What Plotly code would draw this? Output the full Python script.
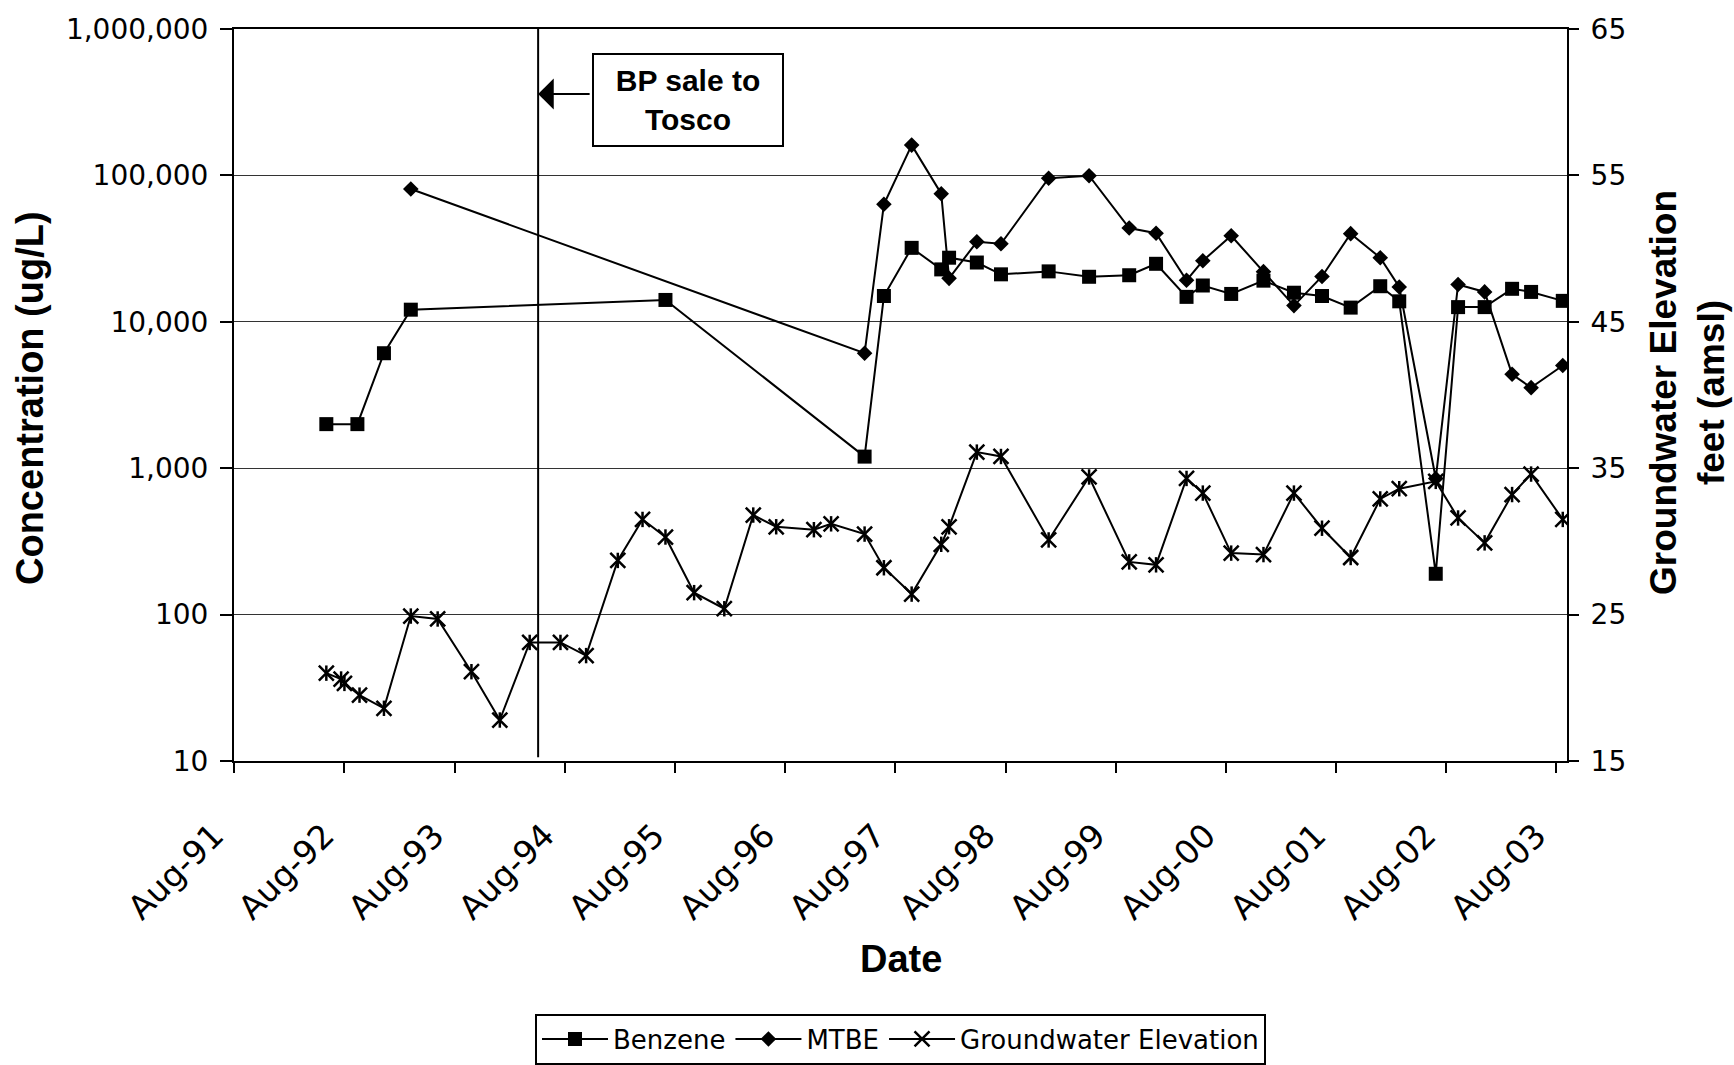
import plotly.graph_objects as go

# ---------------- data ----------------
benzene_dates = [
    "1992-06-02", "1992-09-13", "1992-12-10", "1993-03-09", "1995-07-01",
    "1997-04-21", "1997-06-24", "1997-09-24", "1997-12-31", "1998-01-26",
    "1998-04-28", "1998-07-17", "1998-12-22", "1999-05-05", "1999-09-15",
    "1999-12-13", "2000-03-23", "2000-05-16", "2000-08-18", "2000-12-03",
    "2001-03-14", "2001-06-15", "2001-09-18", "2001-12-25", "2002-02-26",
    "2002-06-27", "2002-09-09", "2002-12-06", "2003-03-07", "2003-05-09",
    "2003-08-22",
]
benzene_ugL = [
    2000, 2000, 6100, 12100, 14100,
    1200, 15000, 32000, 22800, 27400,
    25400, 21100, 22100, 20300, 20800,
    24900, 14800, 17700, 15500, 19100,
    15800, 15000, 12500, 17500, 13800,
    190, 12600, 12600, 16800, 16000,
    13900,
]

mtbe_dates = [
    "1993-03-09",
    "1997-04-21", "1997-06-24", "1997-09-24", "1997-12-31", "1998-01-26",
    "1998-04-28", "1998-07-17", "1998-12-22", "1999-05-05", "1999-09-15",
    "1999-12-13", "2000-03-23", "2000-05-16", "2000-08-18", "2000-12-03",
    "2001-03-14", "2001-06-15", "2001-09-18", "2001-12-25", "2002-02-26",
    "2002-06-27", "2002-09-09", "2002-12-06", "2003-03-07", "2003-05-09",
    "2003-08-22",
]
mtbe_ugL = [
    80700,
    6100, 63500, 161000, 75000, 19800,
    35200, 34100, 95700, 99500, 43700,
    40300, 19200, 26100, 38700, 22000,
    12900, 20400, 40000, 27400, 17300,
    850, 18000, 16000, 4380, 3550,
    5030,
]

gw_dates = [
    "1992-06-02", "1992-07-21", "1992-08-01", "1992-09-20", "1992-12-10",
    "1993-03-09", "1993-06-06", "1993-09-26", "1993-12-29", "1994-04-07",
    "1994-07-18", "1994-10-11", "1995-01-24", "1995-04-16", "1995-07-01",
    "1995-10-04", "1996-01-12", "1996-04-17", "1996-07-02", "1996-11-04",
    "1996-12-31", "1997-04-21", "1997-06-24", "1997-09-24", "1997-12-31",
    "1998-01-26", "1998-04-28", "1998-07-17", "1998-12-22", "1999-05-05",
    "1999-09-15", "1999-12-13", "2000-03-23", "2000-05-16", "2000-08-18",
    "2000-12-03", "2001-03-14", "2001-06-15", "2001-09-18", "2001-12-25",
    "2002-02-26", "2002-06-27", "2002-09-09", "2002-12-06", "2003-03-07",
    "2003-05-09", "2003-08-22",
]
gw_elev_ft = [
    21.0, 20.6, 20.3, 19.5, 18.6,
    24.9, 24.7, 21.1, 17.8, 23.1,
    23.1, 22.2, 28.7, 31.5, 30.3,
    26.5, 25.4, 31.8, 31.0, 30.8,
    31.2, 30.5, 28.2, 26.4, 29.8,
    31.0, 36.1, 35.8, 30.1, 34.4,
    28.6, 28.4, 34.3, 33.3, 29.2,
    29.1, 33.3, 30.9, 28.9, 32.9,
    33.6, 34.1, 31.6, 29.9, 33.2,
    34.6, 31.5,
]

y_ticks = [10, 100, 1000, 10000, 100000, 1000000]
y_tick_labels = ["10", "100", "1,000", "10,000", "100,000", "1,000,000"]
y2_ticks = [15, 25, 35, 45, 55, 65]
sale_date = "1994-05-05"
x_range = ["1991-08-01", "2003-09-05"]

REG = "DejaVu Sans"
BOLD = "Liberation Sans"

fig = go.Figure()
fig.add_trace(go.Scatter(
    x=benzene_dates, y=benzene_ugL, name="Benzene", mode="lines+markers",
    line=dict(color="black", width=2),
    marker=dict(symbol="square", size=14, color="black"),
))
fig.add_trace(go.Scatter(
    x=mtbe_dates, y=mtbe_ugL, name="MTBE", mode="lines+markers",
    line=dict(color="black", width=2),
    marker=dict(symbol="diamond", size=12, color="black"),
))
fig.add_trace(go.Scatter(
    x=gw_dates, y=gw_elev_ft, name="Groundwater Elevation", yaxis="y2",
    mode="lines+markers",
    line=dict(color="black", width=2),
    marker=dict(symbol="x-thin-open", size=15, color="black",
                line=dict(color="black", width=2.5)),
))
fig.add_trace(go.Scatter(
    x=gw_dates, y=gw_elev_ft, yaxis="y2", mode="markers", showlegend=False,
    hoverinfo="skip",
    marker=dict(symbol="line-ns-open", size=11, color="black",
                line=dict(color="black", width=2.5)),
))

fig.update_layout(
    template="none",
    width=1734, height=1065, autosize=False,
    margin=dict(l=234, r=167, t=29, b=304, pad=0, autoexpand=False),
    paper_bgcolor="white", plot_bgcolor="white",
    font=dict(family=REG, size=27, color="black"),
    showlegend=True,
    legend=dict(
        orientation="h", x=0.5, xanchor="center", y=-0.345, yanchor="top",
        bordercolor="black", borderwidth=2, bgcolor="white",
        font=dict(family=REG, size=26, color="black"), itemwidth=66,
    ),
    xaxis=dict(
        type="date", range=x_range, tick0="1991-08-01", dtick="M12",
        tickformat="%b-%y", tickangle=-45, ticks="outside", ticklen=10,
        tickwidth=1.5, tickcolor="black", showline=True, linecolor="black",
        linewidth=2, mirror=True, showgrid=False, zeroline=False,
        tickfont=dict(family=REG, size=33), ticklabelstandoff=30,
        ticklabelshift=-20, automargin=False,
    ),
    yaxis=dict(
        type="log", range=[1, 6], tickvals=y_ticks, ticktext=y_tick_labels,
        ticks="outside", ticklen=12, tickwidth=1.5, tickcolor="black",
        showline=True, linecolor="black", linewidth=2,
        showgrid=True, gridcolor="#333333", gridwidth=1, zeroline=False,
        tickfont=dict(family=REG, size=28), ticklabelstandoff=6,
        automargin=False,
    ),
    yaxis2=dict(
        overlaying="y", side="right", range=[15, 65], tickvals=y2_ticks,
        ticks="outside", ticklen=10, tickwidth=1.5, tickcolor="black",
        showline=True, linecolor="black", linewidth=2,
        showgrid=False, zeroline=False,
        tickfont=dict(family=REG, size=28), ticklabelstandoff=6,
        automargin=False,
    ),
)

# vertical line marking the BP sale
fig.add_shape(type="line", xref="x", yref="paper", x0=sale_date, x1=sale_date,
              y0=0.005, y1=1, line=dict(color="black", width=2))

# annotations
fig.add_annotation(
    xref="paper", yref="paper", x=0.3406, y=0.903,
    xanchor="center", yanchor="middle",
    text="<b>BP sale to<br>Tosco</b>", showarrow=False,
    font=dict(family=BOLD, size=30, color="black"),
    bordercolor="black", borderwidth=2, borderpad=1, bgcolor="white",
    width=186, height=88, align="center",
)
fig.add_annotation(
    xref="x", yref="paper", x=sale_date, y=0.9112, text="",
    showarrow=True, ax=53, ay=0, arrowhead=1, arrowsize=2.6, arrowwidth=2,
    arrowcolor="black", standoff=0,
)
fig.add_annotation(
    xref="paper", yref="paper", x=0, y=0.5, xshift=-204, yshift=-3,
    text="<b>Concentration (ug/L)</b>", textangle=-90, showarrow=False,
    font=dict(family=BOLD, size=38, color="black"),
    xanchor="center", yanchor="middle",
)
fig.add_annotation(
    xref="paper", yref="paper", x=1, y=0.5, xshift=120, yshift=2,
    text="<b>Groundwater Elevation<br>feet (amsl)</b>", textangle=-90,
    showarrow=False, font=dict(family=BOLD, size=37, color="black"),
    xanchor="center", yanchor="middle",
)
fig.add_annotation(
    xref="paper", yref="paper", x=0.5, y=0, yshift=-198,
    text="<b>Date</b>", showarrow=False,
    font=dict(family=BOLD, size=38, color="black"),
    xanchor="center", yanchor="middle",
)

fig.write_html(
    "out.html",
    config={"displayModeBar": False},
    post_script="document.body.style.margin='0px';document.body.style.padding='0px';document.body.style.overflow='hidden';",
)
